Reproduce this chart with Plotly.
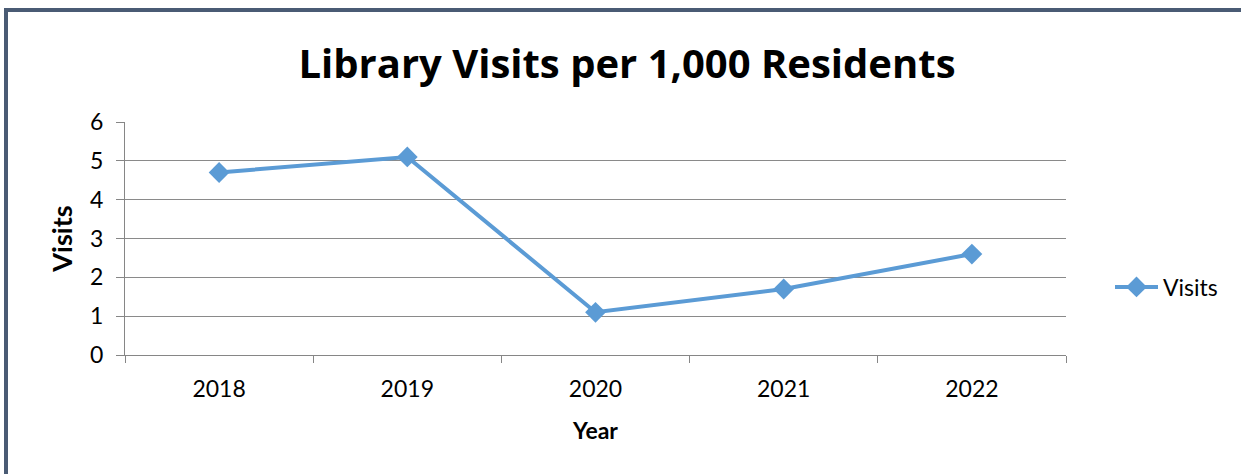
import plotly.graph_objects as go

years = ["2018", "2019", "2020", "2021", "2022"]
visits = [4.7, 5.1, 1.1, 1.7, 2.6]
series_name = "Visits"
title_text = "Library Visits per 1,000 Residents"

W, H = 1241, 474
L, R, T, B = 125, 1066, 122, 355
FONT = "Lato"

fig = go.Figure()
fig.add_trace(go.Scatter(
    x=years, y=visits, mode="lines+markers", name=series_name,
    line=dict(color="#5b9bd5", width=4),
    marker=dict(symbol="diamond", size=16, color="#5b9bd5"),
))

pw, ph = R - L, B - T
def px_x(x):
    return (x - L) / pw
def px_y(y):
    return (B - y) / ph

fig.update_layout(
    width=W, height=H,
    margin=dict(l=L, r=W - R, t=T, b=H - B),
    paper_bgcolor="white", plot_bgcolor="white",
    font=dict(family=FONT, color="black", size=23),
    title=dict(text="<b>" + title_text + "</b>", font=dict(family="Open Sans", size=40, color="black"),
               x=627 / W, xref="container", xanchor="center",
               y=1 - 64 / H, yref="container", yanchor="middle"),
    showlegend=True,
    legend=dict(x=px_x(1110), y=px_y(287), xanchor="left", yanchor="middle",
                itemwidth=43,
                font=dict(family=FONT, size=23), bgcolor="rgba(0,0,0,0)"),
    xaxis=dict(
        type="category", tickson="boundaries", ticks="outside", ticklen=7,
        tickcolor="#868686", showline=True, linecolor="#868686", linewidth=1.3,
        showgrid=False, tickfont=dict(family=FONT, size=23), ticklabelstandoff=13,
        title=dict(text="<b>Year</b>", font=dict(family=FONT, size=23), standoff=22),
        range=[-0.5, 4.5], fixedrange=True,
    ),
    yaxis=dict(
        range=[0, 6], dtick=1, ticks="outside", ticklen=8, tickcolor="#868686",
        showline=True, linecolor="#868686", linewidth=1.3,
        showgrid=True, gridcolor="#8a8a8a", gridwidth=1.3,
        zeroline=False, tickfont=dict(family=FONT, size=23), ticklabelstandoff=8,
        title=dict(text="<b>Visits</b>", font=dict(family=FONT, size=27), standoff=9),
    ),
    shapes=[dict(type="rect", xref="paper", yref="paper",
                 x0=px_x(6), x1=px_x(1300), y0=px_y(520), y1=px_y(10),
                 line=dict(color="#4a5b74", width=4), fillcolor="rgba(0,0,0,0)",
                 layer="below")],
)

fig.write_html("out.html", config={"displayModeBar": False},
               post_script="document.body.style.margin='0';document.body.style.overflow='hidden';")
